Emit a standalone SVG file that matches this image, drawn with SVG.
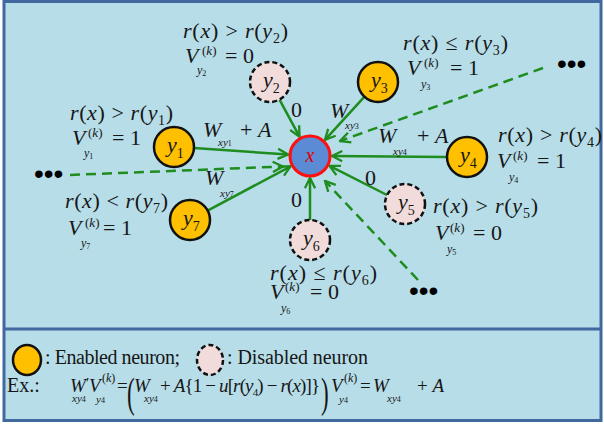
<svg xmlns="http://www.w3.org/2000/svg" width="604" height="425" viewBox="0 0 604 425">
<style>
.m{font-family:"Liberation Serif","Times New Roman",serif;font-size:22px;fill:#161616}
.i{font-style:italic}
.d{font-size:14px;font-style:normal}
.sup{font-family:"Liberation Serif",serif;font-size:13px;fill:#161616}
.sub{font-family:"Liberation Serif",serif;font-size:12px;fill:#161616;font-style:italic}
.sd{font-size:8px;font-style:normal}
.en{fill:#ffc000;stroke:#111;stroke-width:2.5}
.dis{fill:#f2dcdb;stroke:#111;stroke-width:2.5;stroke-dasharray:5 3}
.e{stroke:#1e8c1e;stroke-width:2.5;fill:none;marker-end:url(#ah)}
.dash{stroke-dasharray:10 6}
.dots{font-family:"Liberation Sans",sans-serif;font-size:28px;fill:#000}
.leg{font-family:"Liberation Serif",serif;font-size:20px;fill:#161616}
.eq{font-family:"Liberation Serif",serif;font-size:19px;fill:#161616}
.es{font-family:"Liberation Serif",serif;font-size:11px;fill:#161616;font-style:italic}
</style>
<defs>
<marker id="ah" viewBox="0 0 14 14" refX="12.5" refY="7" markerWidth="13" markerHeight="13" markerUnits="userSpaceOnUse" orient="auto">
<path d="M1.5,1.5 L12.5,7 L1.5,12.5" fill="none" stroke="#1e8c1e" stroke-width="2.5"/>
</marker>
</defs>
<rect x="4" y="1.5" width="597" height="419" fill="#b7dde8" stroke="#41689f" stroke-width="3"/>
<line x1="4" y1="329" x2="601" y2="329" stroke="#41689f" stroke-width="3"/>

<g id="connectors">
<line class="e" x1="194" y1="148" x2="288" y2="154.5"/>
<line class="e" x1="279.5" y1="99.6" x2="299.5" y2="136.6"/>
<line class="e" x1="364.5" y1="96.7" x2="325" y2="139.8"/>
<line class="e" x1="447" y1="157" x2="332" y2="156"/>
<line class="e" x1="387" y1="195" x2="329.6" y2="165.9"/>
<line class="e" x1="310" y1="220" x2="310" y2="178"/>
<line class="e" x1="207.6" y1="210.6" x2="290.6" y2="166.3"/>
<line class="e dash" x1="70" y1="175" x2="283" y2="166.5"/>
<line class="e dash" x1="543" y1="68" x2="340" y2="141"/>
<line class="e dash" x1="418" y1="280" x2="325" y2="181"/>
</g>

<g id="edge-labels">
<text class="m" x="291" y="117">0</text>
<text class="m" x="365" y="185">0</text>
<text class="m" x="291" y="207">0</text>
<text class="m i" x="203" y="137">W</text><text class="es" x="218" y="146">xy<tspan class="sd">1</tspan></text><text class="m" x="240" y="137">+ <tspan class="i">A</tspan></text>
<text class="m i" x="205" y="185">W</text><text class="es" x="220" y="197">xy<tspan class="sd">7</tspan></text>
<text class="m i" x="330" y="118">W</text><text class="es" x="345" y="129">xy<tspan class="sd">3</tspan></text>
<text class="m i" x="378" y="143">W</text><text class="es" x="393" y="155">xy<tspan class="sd">4</tspan></text><text class="m" x="417" y="143">+ <tspan class="i">A</tspan></text>
</g>

<g id="dots">
<text class="dots" x="34" y="183">•••</text>
<text class="dots" x="557" y="73">•••</text>
<text class="dots" x="409" y="300">•••</text>
</g>

<g id="node-x">
<circle cx="310" cy="156" r="20" fill="#5b8bd5" stroke="#ff1010" stroke-width="3"/>
<text class="m i" x="310" y="162" text-anchor="middle" style="fill:#e00000;font-size:20px">x</text>
</g>

<g id="node-y1">
<circle class="en" cx="174" cy="147" r="20"/>
<text class="m" x="167" y="152"><tspan class="i">y</tspan><tspan class="d" dy="6">1</tspan></text>
<text class="m" x="70" y="120" textLength="103" lengthAdjust="spacing"><tspan class="i">r</tspan>(<tspan class="i">x</tspan>) &gt; <tspan class="i">r</tspan>(<tspan class="i">y</tspan><tspan class="d" dy="5">1</tspan><tspan dy="-5">)</tspan></text>
<text class="m i" x="72" y="145">V</text><text class="sup" x="88" y="137">(<tspan class="i">k</tspan>)</text><text class="sub" x="84" y="157">y<tspan class="sd" dy="2">1</tspan></text><text class="m" x="112" y="145">= 1</text>
</g>

<g id="node-y2">
<circle class="dis" cx="270" cy="82" r="20"/>
<text class="m" x="263" y="87"><tspan class="i">y</tspan><tspan class="d" dy="6">2</tspan></text>
<text class="m" x="183" y="38" textLength="105" lengthAdjust="spacing"><tspan class="i">r</tspan>(<tspan class="i">x</tspan>) &gt; <tspan class="i">r</tspan>(<tspan class="i">y</tspan><tspan class="d" dy="5">2</tspan><tspan dy="-5">)</tspan></text>
<text class="m i" x="185" y="63">V</text><text class="sup" x="202" y="55">(<tspan class="i">k</tspan>)</text><text class="sub" x="197" y="74">y<tspan class="sd" dy="2">2</tspan></text><text class="m" x="225" y="63">= 0</text>
</g>

<g id="node-y3">
<circle class="en" cx="378" cy="82" r="20"/>
<text class="m" x="371" y="87"><tspan class="i">y</tspan><tspan class="d" dy="6">3</tspan></text>
<text class="m" x="403" y="50" textLength="105" lengthAdjust="spacing"><tspan class="i">r</tspan>(<tspan class="i">x</tspan>) ≤ <tspan class="i">r</tspan>(<tspan class="i">y</tspan><tspan class="d" dy="5">3</tspan><tspan dy="-5">)</tspan></text>
<text class="m i" x="407" y="75">V</text><text class="sup" x="424" y="67">(<tspan class="i">k</tspan>)</text><text class="sub" x="421" y="88">y<tspan class="sd" dy="2">3</tspan></text><text class="m" x="450" y="75">= 1</text>
</g>

<g id="node-y4">
<circle class="en" cx="467" cy="157" r="20"/>
<text class="m" x="460" y="162"><tspan class="i">y</tspan><tspan class="d" dy="6">4</tspan></text>
<text class="m" x="498" y="142" textLength="104" lengthAdjust="spacing"><tspan class="i">r</tspan>(<tspan class="i">x</tspan>) &gt; <tspan class="i">r</tspan>(<tspan class="i">y</tspan><tspan class="d" dy="5">4</tspan><tspan dy="-5">)</tspan></text>
<text class="m i" x="497" y="168">V</text><text class="sup" x="513" y="160">(<tspan class="i">k</tspan>)</text><text class="sub" x="509" y="181">y<tspan class="sd" dy="2">4</tspan></text><text class="m" x="537" y="168">= 1</text>
</g>

<g id="node-y5">
<circle class="dis" cx="405" cy="204" r="20"/>
<text class="m" x="398" y="209"><tspan class="i">y</tspan><tspan class="d" dy="6">5</tspan></text>
<text class="m" x="433" y="213" textLength="105" lengthAdjust="spacing"><tspan class="i">r</tspan>(<tspan class="i">x</tspan>) &gt; <tspan class="i">r</tspan>(<tspan class="i">y</tspan><tspan class="d" dy="5">5</tspan><tspan dy="-5">)</tspan></text>
<text class="m i" x="435" y="240">V</text><text class="sup" x="450" y="232">(<tspan class="i">k</tspan>)</text><text class="sub" x="447" y="253">y<tspan class="sd" dy="2">5</tspan></text><text class="m" x="473" y="240">= 0</text>
</g>

<g id="node-y6">
<circle class="dis" cx="310" cy="240" r="20"/>
<text class="m" x="303" y="245"><tspan class="i">y</tspan><tspan class="d" dy="6">6</tspan></text>
<text class="m" x="270" y="280" textLength="107" lengthAdjust="spacing"><tspan class="i">r</tspan>(<tspan class="i">x</tspan>) ≤ <tspan class="i">r</tspan>(<tspan class="i">y</tspan><tspan class="d" dy="5">6</tspan><tspan dy="-5">)</tspan></text>
<text class="m i" x="270" y="299">V</text><text class="sup" x="285" y="291">(<tspan class="i">k</tspan>)</text><text class="sub" x="281" y="312">y<tspan class="sd" dy="2">6</tspan></text><text class="m" x="310" y="299">= 0</text>
</g>

<g id="node-y7">
<circle class="en" cx="190" cy="220" r="20"/>
<text class="m" x="183" y="225"><tspan class="i">y</tspan><tspan class="d" dy="6">7</tspan></text>
<text class="m" x="65" y="208" textLength="103" lengthAdjust="spacing"><tspan class="i">r</tspan>(<tspan class="i">x</tspan>) &lt; <tspan class="i">r</tspan>(<tspan class="i">y</tspan><tspan class="d" dy="5">7</tspan><tspan dy="-5">)</tspan></text>
<text class="m i" x="68" y="235">V</text><text class="sup" x="85" y="227">(<tspan class="i">k</tspan>)</text><text class="sub" x="81" y="247">y<tspan class="sd" dy="2">7</tspan></text><text class="m" x="103" y="235">= 1</text>
</g>

<g id="legend">
<ellipse class="en" cx="27" cy="360" rx="14" ry="15"/>
<text class="leg" x="45" y="364" textLength="135" lengthAdjust="spacing">: Enabled neuron;</text>
<ellipse class="dis" cx="210" cy="360" rx="13" ry="15"/>
<text class="leg" x="227" y="364" textLength="141" lengthAdjust="spacing">: Disabled neuron</text>
</g>

<g id="equation">
<text class="eq" x="7" y="392" style="font-size:20px">Ex.:</text>
<text class="eq i" x="70" y="392">W</text><text class="eq" x="86" y="388" style="font-size:15px">′</text><text class="es" x="72" y="402">xy<tspan class="sd">4</tspan></text>
<text class="eq i" x="89" y="392">V</text><text class="sup" x="102" y="382" style="font-size:12px">(<tspan class="i">k</tspan>)</text><text class="es" x="96" y="403">y<tspan class="sd">4</tspan></text>
<text class="eq" x="117" y="392">=</text>
<text class="eq" x="0" y="0" transform="translate(127,407) scale(0.55,1)" style="font-size:42px">(</text>
<text class="eq i" x="134" y="392">W</text><text class="es" x="144" y="402">xy<tspan class="sd">4</tspan></text>
<text class="eq" x="160" y="392" textLength="160" lengthAdjust="spacing">+ <tspan class="i">A</tspan>{1 − <tspan class="i">u</tspan>[<tspan class="i">r</tspan>(<tspan class="i">y</tspan><tspan dy="4" style="font-size:11px">4</tspan><tspan dy="-4">)</tspan> − <tspan class="i">r</tspan>(<tspan class="i">x</tspan>)]}</text>
<text class="eq" x="0" y="0" transform="translate(321,407) scale(0.55,1)" style="font-size:42px">)</text>
<text class="eq i" x="331" y="392">V</text><text class="sup" x="344" y="382" style="font-size:12px">(<tspan class="i">k</tspan>)</text><text class="es" x="339" y="403">y<tspan class="sd">4</tspan></text>
<text class="eq" x="360" y="392">=</text>
<text class="eq i" x="373" y="392">W</text><text class="es" x="387" y="402">xy<tspan class="sd">4</tspan></text>
<text class="eq" x="417" y="392">+ <tspan class="i">A</tspan></text>
</g>
</svg>
